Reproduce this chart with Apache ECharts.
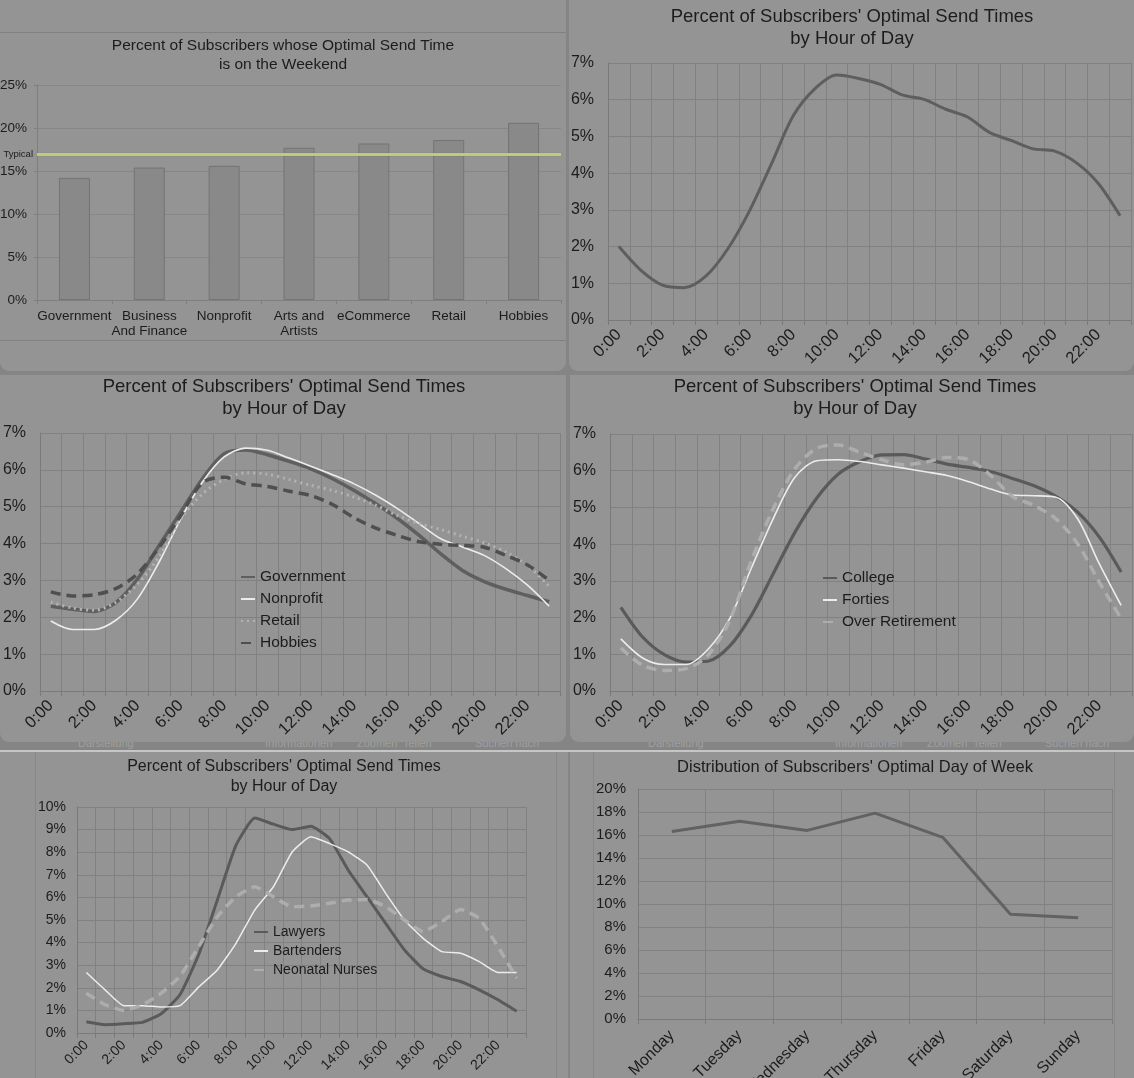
<!DOCTYPE html>
<html>
<head>
<meta charset="utf-8">
<script src="https://cdn.jsdelivr.net/npm/echarts@6/dist/echarts.min.js"></script>
<style>
html,body{margin:0;padding:0;width:1134px;height:1078px;overflow:hidden;background:#858585;font-family:'Liberation Sans',Arial,sans-serif;}
.pan{position:absolute;background:#949494;}
.rb{border-radius:0 0 9px 9px;}
.hl{position:absolute;height:1px;background:#818181;}
.vl{position:absolute;width:1px;background:#888888;}
.tb{position:absolute;overflow:hidden;height:8px;}
.tb span{position:absolute;top:-5px;font-size:11px;color:#a0a0a0;white-space:nowrap;}
#chart{position:absolute;left:0;top:0;width:1134px;height:1078px;}
</style>
</head>
<body>
<div class="pan rb" style="left:0;top:0;width:566px;height:371px;"></div>
<div class="hl" style="left:0;top:32px;width:566px;"></div>
<div class="hl" style="left:0;top:340px;width:566px;"></div>
<div class="pan rb" style="left:569px;top:0;width:565px;height:371px;"></div>
<div class="pan rb" style="left:0;top:375px;width:566px;height:367px;"></div>
<div class="pan rb" style="left:570px;top:375px;width:564px;height:367px;"></div>
<div class="tb" style="left:0;top:742px;width:566px;">
  <span style="left:78px;">Darstellung</span>
  <span style="left:265px;">Informationen</span>
  <span style="left:357px;">Zoomen</span>
  <span style="left:403px;">Teilen</span>
  <span style="left:475px;">Suchen nach</span>
</div>
<div class="tb" style="left:570px;top:742px;width:564px;">
  <span style="left:78px;">Darstellung</span>
  <span style="left:265px;">Informationen</span>
  <span style="left:357px;">Zoomen</span>
  <span style="left:403px;">Teilen</span>
  <span style="left:475px;">Suchen nach</span>
</div>
<div style="position:absolute;left:0;top:750px;width:1134px;height:2px;background:#c6c6c6;"></div>
<div class="pan" style="left:0;top:752px;width:568px;height:326px;"></div>
<div class="pan" style="left:570px;top:752px;width:564px;height:326px;"></div>
<div class="vl" style="left:35px;top:752px;height:326px;"></div>
<div class="vl" style="left:556px;top:752px;height:326px;"></div>
<div class="vl" style="left:593px;top:752px;height:326px;"></div>
<div class="vl" style="left:1114px;top:752px;height:326px;"></div>
<div id="chart"></div>
<script>
// ---------- DATA ----------
const weekendCategories = ['Government', 'Business\nAnd Finance', 'Nonprofit', 'Arts and\nArtists', 'eCommerce', 'Retail', 'Hobbies'];
const weekendPct = [14.2, 15.4, 15.6, 17.7, 18.2, 18.6, 20.6];
const typicalWeekendPct = 16.9;

const hours = ['0:00','1:00','2:00','3:00','4:00','5:00','6:00','7:00','8:00','9:00','10:00','11:00',
               '12:00','13:00','14:00','15:00','16:00','17:00','18:00','19:00','20:00','21:00','22:00','23:00'];

const overallHourly = [2.0, 1.36, 0.95, 0.88, 1.2, 1.94, 2.98, 4.25, 5.56, 6.3, 6.67, 6.58, 6.42, 6.13, 6.01, 5.74, 5.53, 5.11, 4.89, 4.66, 4.6, 4.28, 3.72, 2.84];

const government = [2.30, 2.22, 2.16, 2.40, 3.04, 3.95, 4.86, 5.76, 6.44, 6.54, 6.41, 6.23, 6.03, 5.76, 5.44, 5.08, 4.68, 4.22, 3.72, 3.27, 2.97, 2.76, 2.59, 2.42];
const nonprofit  = [1.90, 1.67, 1.67, 1.92, 2.50, 3.50, 4.67, 5.67, 6.35, 6.59, 6.53, 6.32, 6.10, 5.87, 5.62, 5.31, 4.95, 4.54, 4.13, 3.91, 3.68, 3.32, 2.87, 2.30];
const retail     = [2.41, 2.25, 2.19, 2.41, 2.90, 3.65, 4.67, 5.35, 5.74, 5.92, 5.88, 5.74, 5.58, 5.44, 5.26, 5.04, 4.76, 4.54, 4.38, 4.20, 4.02, 3.77, 3.41, 2.84];
const hobbies    = [2.69, 2.58, 2.61, 2.78, 3.18, 3.90, 4.76, 5.65, 5.80, 5.62, 5.55, 5.42, 5.30, 5.06, 4.70, 4.42, 4.22, 4.05, 3.98, 3.95, 3.90, 3.68, 3.42, 3.00];

const college        = [2.28, 1.47, 0.99, 0.79, 0.81, 1.22, 2.06, 3.19, 4.32, 5.25, 5.91, 6.25, 6.43, 6.44, 6.32, 6.18, 6.09, 5.98, 5.79, 5.59, 5.30, 4.87, 4.19, 3.24];
const forties        = [1.42, 0.90, 0.72, 0.72, 1.13, 1.97, 3.35, 4.69, 5.82, 6.27, 6.30, 6.25, 6.16, 6.07, 5.97, 5.87, 5.70, 5.50, 5.34, 5.32, 5.28, 4.69, 3.46, 2.33];
const overRetirement = [1.17, 0.70, 0.56, 0.61, 0.97, 1.92, 3.55, 4.96, 6.05, 6.61, 6.70, 6.50, 6.30, 6.16, 6.23, 6.36, 6.30, 5.87, 5.30, 5.05, 4.69, 4.01, 2.96, 1.97];

const lawyers        = [0.50, 0.37, 0.41, 0.47, 0.85, 1.69, 3.46, 5.88, 8.31, 9.51, 9.24, 9.00, 9.15, 8.60, 7.20, 6.03, 4.85, 3.68, 2.84, 2.50, 2.28, 1.91, 1.47, 0.96];
const bartenders     = [2.68, 1.91, 1.21, 1.21, 1.15, 1.21, 2.03, 2.79, 3.97, 5.44, 6.47, 8.01, 8.68, 8.38, 8.01, 7.43, 6.18, 5.00, 4.19, 3.60, 3.53, 3.16, 2.68, 2.68];
const neonatalNurses = [1.76, 1.25, 1.00, 1.25, 1.76, 2.50, 3.82, 5.15, 6.03, 6.47, 6.03, 5.59, 5.62, 5.74, 5.88, 5.91, 5.59, 5.00, 4.49, 4.93, 5.47, 5.07, 3.82, 2.43];

const weekDays = ['Monday', 'Tuesday', 'Wednesday', 'Thursday', 'Friday', 'Saturday', 'Sunday'];
const weekDayPct = [16.3, 17.2, 16.4, 17.9, 15.8, 9.1, 8.8];

// ---------- STYLE HELPERS ----------
const TXT = '#1c1c1c';
const GRID = '#818181';
const FONT = "'Liberation Sans', Arial, sans-serif";

function hourAxis(gi, fs, margin) {
  return {
    type: 'category', gridIndex: gi, data: hours, boundaryGap: true,
    axisLine: { show: true, lineStyle: { color: '#7a7a7a', width: 1 } },
    axisTick: { show: true, interval: 0, length: 5, lineStyle: { color: '#7a7a7a' } },
    axisLabel: { interval: 1, rotate: 45, fontSize: fs, color: TXT, margin: margin, fontFamily: FONT },
    splitLine: { show: true, interval: 0, lineStyle: { color: GRID, width: 1 } }
  };
}
function pctAxis(gi, max, interval, fs, margin) {
  return {
    type: 'value', gridIndex: gi, min: 0, max: max, interval: interval,
    axisLine: { show: true, lineStyle: { color: '#7a7a7a' } },
    axisTick: { show: false },
    axisLabel: { formatter: '{value}%', fontSize: fs, color: TXT, margin: margin, fontFamily: FONT },
    splitLine: { show: true, lineStyle: { color: GRID, width: 1 } }
  };
}
function lineSeries(name, data, gi, color, width, type, smooth) {
  return {
    name: name, type: 'line', xAxisIndex: gi, yAxisIndex: gi, data: data,
    symbol: 'none', smooth: smooth, silent: true,
    lineStyle: { color: color, width: width, type: type, cap: 'butt' },
    itemStyle: { color: color }
  };
}
function titleAt(text, x, y, fs, lh) {
  return { text: text, left: x, top: y, textAlign: 'center', padding: 0,
    textStyle: { fontSize: fs, fontWeight: 'normal', color: TXT, lineHeight: lh, fontFamily: FONT } };
}
function legendAt(names, x, y, fs, gap) {
  return { orient: 'vertical', left: x, top: y, itemWidth: 14, itemHeight: 12, itemGap: gap,
    padding: 0, data: names, selectedMode: false,
    itemStyle: { opacity: 0 },
    textStyle: { fontSize: fs, color: TXT, fontFamily: FONT } };
}
function gridAt(l, t, w, h) {
  return { left: l, top: t, width: w, height: h, outerBoundsMode: 'none', containLabel: false };
}

const chart = echarts.init(document.getElementById('chart'), null, { renderer: 'canvas' });

const option = {
  backgroundColor: 'transparent',
  animation: false,
  title: [
    titleAt('Percent of Subscribers whose Optimal Send Time\nis on the Weekend', 283, 36, 15.5, 19),
    titleAt("Percent of Subscribers' Optimal Send Times\nby Hour of Day", 852, 6, 18.5, 22),
    titleAt("Percent of Subscribers' Optimal Send Times\nby Hour of Day", 284, 376, 18.5, 22),
    titleAt("Percent of Subscribers' Optimal Send Times\nby Hour of Day", 855, 376, 18.5, 22),
    titleAt("Percent of Subscribers' Optimal Send Times\nby Hour of Day", 284, 757, 16, 20),
    titleAt("Distribution of Subscribers' Optimal Day of Week", 855, 757, 16.5, 20)
  ],
  legend: [
    legendAt(['Government', 'Nonprofit', 'Retail', 'Hobbies'], 240, 569, 15.5, 6),
    legendAt(['College', 'Forties', 'Over Retirement'], 822, 570, 15.5, 6),
    legendAt(['Lawyers', 'Bartenders', 'Neonatal Nurses'], 253, 925, 14, 5)
  ],
  grid: [
    gridAt(37, 85, 524, 215),
    gridAt(608, 63, 523, 257),
    gridAt(40, 433, 520, 258),
    gridAt(610, 434, 522, 257),
    gridAt(77, 807, 449, 226),
    gridAt(638, 789, 474, 230)
  ],
  xAxis: [
    {
      type: 'category', gridIndex: 0, data: weekendCategories,
      axisLine: { show: true, lineStyle: { color: '#7f7f7f' } },
      axisTick: { show: true, length: 4, lineStyle: { color: '#7f7f7f' } },
      axisLabel: { interval: 0, fontSize: 13.5, color: TXT, margin: 9, lineHeight: 15, fontFamily: FONT },
      splitLine: { show: false }
    },
    hourAxis(1, 16.5, 12),
    hourAxis(2, 16.5, 12),
    hourAxis(3, 16.5, 12),
    hourAxis(4, 14, 10),
    {
      type: 'category', gridIndex: 5, data: weekDays, boundaryGap: true,
      axisLine: { show: true, lineStyle: { color: '#7a7a7a' } },
      axisTick: { show: true, interval: 0, length: 5, lineStyle: { color: '#7a7a7a' } },
      axisLabel: { interval: 0, rotate: 45, fontSize: 16, color: TXT, margin: 14, fontFamily: FONT },
      splitLine: { show: true, interval: 0, lineStyle: { color: GRID } }
    }
  ],
  yAxis: [
    {
      type: 'value', gridIndex: 0, min: 0, max: 25, interval: 5,
      axisLine: { show: true, lineStyle: { color: '#7f7f7f' } },
      axisTick: { show: true, length: 3, lineStyle: { color: '#7f7f7f' } },
      axisLabel: { formatter: '{value}%', fontSize: 13.5, color: TXT, margin: 10, fontFamily: FONT },
      splitLine: { show: true, lineStyle: { color: '#878787' } }
    },
    pctAxis(1, 7, 1, 16, 14),
    pctAxis(2, 7, 1, 16, 14),
    pctAxis(3, 7, 1, 16, 14),
    pctAxis(4, 10, 1, 14, 11),
    pctAxis(5, 20, 2, 15, 12)
  ],
  series: [
    {
      name: 'Weekend', type: 'bar', xAxisIndex: 0, yAxisIndex: 0, data: weekendPct,
      barWidth: 31, silent: true,
      itemStyle: { color: '#898989', borderColor: '#747474', borderWidth: 1 },
      markLine: {
        silent: true, symbol: 'none',
        data: [{ yAxis: typicalWeekendPct }],
        lineStyle: { color: '#bccb7c', width: 3, type: 'solid', shadowColor: 'rgba(80,90,40,0.6)', shadowBlur: 1 },
        label: { show: true, position: 'start', formatter: 'Typical', fontSize: 9.5, color: TXT, distance: 4, fontFamily: FONT }
      }
    },
    lineSeries('Overall', overallHourly, 1, '#5e5e5e', 3, 'solid', 0.3),

    lineSeries('Government', government, 2, '#5f5f5f', 3.5, 'solid', 0.3),
    lineSeries('Nonprofit', nonprofit, 2, '#ececec', 1.6, 'solid', 0.3),
    lineSeries('Retail', retail, 2, '#b3b3b3', 3, [2, 4], 0.3),
    lineSeries('Hobbies', hobbies, 2, '#4f4f4f', 3.5, [10, 6], 0.3),

    lineSeries('College', college, 3, '#5a5a5a', 3.2, 'solid', 0.3),
    lineSeries('Forties', forties, 3, '#ececec', 1.6, 'solid', 0.3),
    lineSeries('Over Retirement', overRetirement, 3, '#adadad', 3.5, [10, 6], 0.3),

    lineSeries('Lawyers', lawyers, 4, '#5a5a5a', 3, 'solid', 0.15),
    lineSeries('Bartenders', bartenders, 4, '#ececec', 1.5, 'solid', 0.15),
    lineSeries('Neonatal Nurses', neonatalNurses, 4, '#adadad', 3.5, [10, 6], 0.15),

    lineSeries('Day of Week', weekDayPct, 5, '#626262', 3, 'solid', false)
  ]
};
chart.setOption(option);
</script>
</body>
</html>
